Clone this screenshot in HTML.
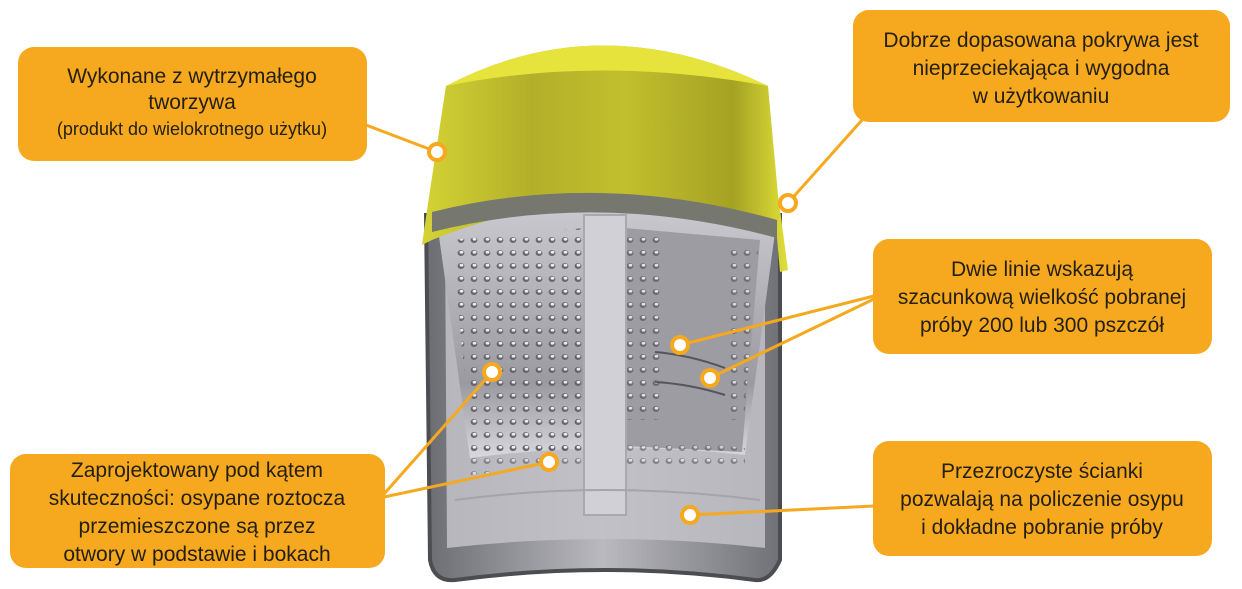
<!DOCTYPE html>
<html><head><meta charset="utf-8"><style>
html,body{margin:0;padding:0;background:#fff;}
svg{display:block;}
text{font-family:"Liberation Sans",sans-serif;fill:#241f14;}
</style></head><body>
<svg width="1242" height="589" viewBox="0 0 1242 589" xmlns="http://www.w3.org/2000/svg">
<defs>
<linearGradient id="lid" x1="0" x2="1" y1="0" y2="0">
<stop offset="0" stop-color="#d4d335"/><stop offset="0.3" stop-color="#b3af2a"/><stop offset="0.55" stop-color="#c2bf2e"/><stop offset="0.85" stop-color="#a5a224"/><stop offset="1" stop-color="#e0df38"/>
</linearGradient>
<linearGradient id="body" x1="0" x2="1" y1="0" y2="0">
<stop offset="0" stop-color="#6c6d72"/><stop offset="0.5" stop-color="#b9b9bf"/><stop offset="1" stop-color="#707176"/>
</linearGradient>
<linearGradient id="inner" x1="0" x2="0" y1="0" y2="1">
<stop offset="0" stop-color="#c8c8ce"/><stop offset="0.7" stop-color="#9a9aa0"/><stop offset="1" stop-color="#d8d8de"/>
</linearGradient>
<pattern id="holes" width="13" height="13" patternUnits="userSpaceOnUse">
<ellipse cx="6" cy="6" rx="3.4" ry="3" fill="#5d5d63"/><ellipse cx="6.5" cy="5.2" rx="1.9" ry="1.4" fill="#f2f2f4"/>
</pattern>
</defs>

<!-- container -->
<path d="M426 215 L780 215 L780 560 Q770 582 755 580 Q605 560 455 580 Q434 582 430 560 Z" fill="url(#body)" stroke="#4c4d52" stroke-width="4"/>
<path d="M445 235 L765 235 L765 548 Q605 530 447 548 Z" fill="#c2c2c8" opacity="0.85"/>
<!-- inner basket -->
<path d="M437 222 Q605 198 776 225 L745 455 Q605 440 470 458 Z" fill="url(#inner)"/>
<path d="M452 240 L585 228 L585 450 L472 456 Z" fill="url(#holes)" opacity="0.9"/>
<path d="M625 228 L760 240 L742 452 L625 446 Z" fill="#9c9ca2"/>
<path d="M625 235 L660 235 L660 420 L625 420 Z" fill="url(#holes)" opacity="0.8"/>
<path d="M730 250 L758 250 L744 420 L725 420 Z" fill="url(#holes)" opacity="0.7"/>
<path d="M470 448 Q605 432 745 448 L745 470 Q605 458 470 475 Z" fill="url(#holes)" opacity="0.6"/>
<rect x="584" y="215" width="42" height="300" fill="#d0d0d6" stroke="#a8a8ae" stroke-width="2"/>
<path d="M655 352 Q690 355 725 368" stroke="#55565b" stroke-width="2" fill="none"/>
<path d="M655 382 Q690 384 725 395" stroke="#55565b" stroke-width="2" fill="none"/>
<path d="M455 500 Q605 480 760 500" stroke="#a4a4aa" stroke-width="2" fill="none"/>
<!-- lid -->
<path d="M446 86 Q600 5 768 86 L778 195 L788 270 L780 272 L777 238 Q600 170 432 240 L422 245 L430 190 Z" fill="url(#lid)"/>
<path d="M446 86 Q600 5 768 86 Q600 55 446 86 Z" fill="#e6e43c"/>
<path d="M432 212 Q600 170 777 220 L777 238 Q600 190 432 232 Z" fill="#76776f"/>

<!-- connectors -->
<g stroke="#f6a81e" stroke-width="3" fill="none">
<line x1="366" y1="125" x2="437" y2="152"/>
<line x1="862" y1="120" x2="788" y2="203"/>
<line x1="874" y1="296" x2="680" y2="345"/>
<line x1="874" y1="299" x2="710" y2="378"/>
<line x1="384" y1="494" x2="492" y2="372"/>
<line x1="384" y1="497" x2="549" y2="462"/>
<line x1="874" y1="506" x2="690" y2="515"/>
</g>
<g fill="#fff" stroke="#f6a81e" stroke-width="4">
<circle cx="437" cy="152" r="8"/><circle cx="788" cy="203" r="8"/>
<circle cx="680" cy="345" r="8"/><circle cx="710" cy="378" r="8"/>
<circle cx="492" cy="372" r="8"/><circle cx="549" cy="462" r="8"/>
<circle cx="690" cy="515" r="8"/>
</g>

<!-- boxes -->
<g fill="#f6a81e">
<rect x="18" y="47" width="349" height="114" rx="16"/>
<rect x="853" y="10" width="377" height="112" rx="16"/>
<rect x="873" y="239" width="339" height="115" rx="16"/>
<rect x="10" y="454" width="375" height="114" rx="16"/>
<rect x="873" y="441" width="339" height="115" rx="16"/>
</g>
<g text-anchor="middle" font-size="21">
<text x="192" y="83">Wykonane z wytrzymałego</text>
<text x="192" y="109">tworzywa</text>
<text x="192" y="135" font-size="18" fill="#3a3322">(produkt do wielokrotnego użytku)</text>
<text x="1041" y="47">Dobrze dopasowana pokrywa jest</text>
<text x="1041" y="75">nieprzeciekająca i wygodna</text>
<text x="1041" y="103">w użytkowaniu</text>
<text x="1042" y="276">Dwie linie wskazują</text>
<text x="1042" y="304">szacunkową wielkość pobranej</text>
<text x="1042" y="332">próby 200 lub 300 pszczół</text>
<text x="197" y="477">Zaprojektowany pod kątem</text>
<text x="197" y="505">skuteczności: osypane roztocza</text>
<text x="197" y="533">przemieszczone są przez</text>
<text x="197" y="561">otwory w podstawie i bokach</text>
<text x="1042" y="478">Przezroczyste ścianki</text>
<text x="1042" y="506">pozwalają na policzenie osypu</text>
<text x="1042" y="534">i dokładne pobranie próby</text>
</g>
</svg>
</body></html>
